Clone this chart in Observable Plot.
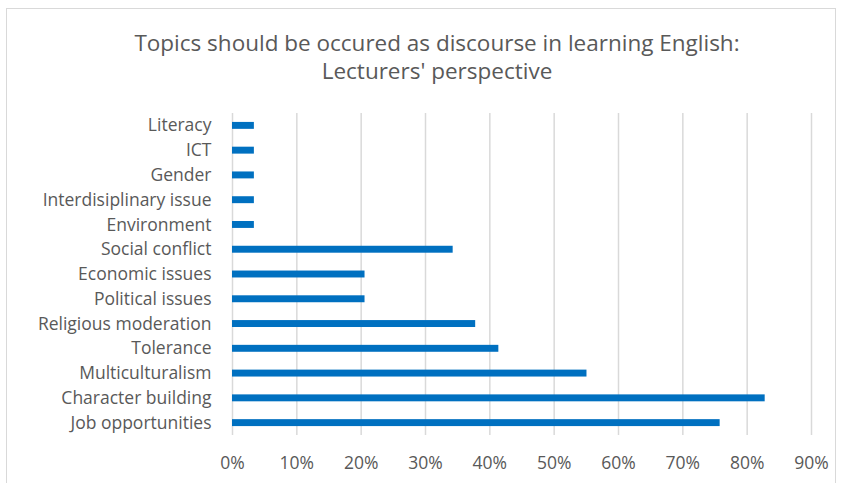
<!DOCTYPE html>
<html>
<head>
<meta charset="utf-8">
<script src="https://cdn.jsdelivr.net/npm/d3@7"></script>
<script src="https://cdn.jsdelivr.net/npm/@observablehq/plot@0.6"></script>
<style>
  html, body { margin: 0; padding: 0; background: #fff; }
  #wrap { position: relative; width: 842px; height: 483px; overflow: hidden; }
  #frame { position: absolute; left: 6px; top: 8px; width: 830px; height: 490px; border: 1.5px solid #d9d9d9; box-sizing: border-box; }
  #title { position: absolute; left: 0; top: 29px; width: 874px; text-align: center; font-family: "Open Sans", sans-serif; font-size: 22.5px; line-height: 28px; color: #595959; letter-spacing: 0px; }
  #chart { position: absolute; left: 0; top: 0; }
</style>
</head>
<body>
<div id="wrap">
  <div id="frame"></div>
  <div id="title">Topics should be occured as discourse in learning English:<br>Lecturers' perspective</div>
  <div id="chart"></div>
</div>
<script>
const categories = [
  "Literacy", "ICT", "Gender", "Interdisiplinary issue", "Environment",
  "Social conflict", "Economic issues", "Political issues", "Religious moderation",
  "Tolerance", "Multiculturalism", "Character building", "Job opportunities"
];
const values = [0.034, 0.034, 0.034, 0.034, 0.034, 0.343, 0.206, 0.206, 0.378, 0.414, 0.551, 0.828, 0.758];
const xTicks = [0, 0.1, 0.2, 0.3, 0.4, 0.5, 0.6, 0.7, 0.8, 0.9];
const xTickLabels = ["0%", "10%", "20%", "30%", "40%", "50%", "60%", "70%", "80%", "90%"];

const data = categories.map((c, i) => ({category: c, value: values[i]}));

const chart = Plot.plot({
  width: 842,
  height: 483,
  marginLeft: 232,
  marginRight: 31,
  marginTop: 113,
  marginBottom: 48,
  style: {fontFamily: "'Open Sans', sans-serif", fontSize: "17.5px", color: "#595959", background: "transparent"},
  x: {domain: [0, 0.9], ticks: xTicks, label: null},
  y: {domain: categories, paddingInner: 0.72, paddingOuter: 0.36, round: false, label: null},
  marks: [
    Plot.gridX(xTicks, {stroke: "#d9d9d9", strokeOpacity: 1, strokeWidth: 1.5}),
    Plot.barX(data, {x: "value", y: "category", fill: "#0070C0"}),
    Plot.axisX({ticks: xTicks, tickFormat: (d) => xTickLabels[xTicks.indexOf(d)], tickSize: 0, tickPadding: 21, label: null, fill: "#595959"}),
    Plot.axisY({tickSize: 0, tickPadding: 21, label: null, fill: "#595959"})
  ]
});
document.getElementById("chart").appendChild(chart);
</script>
</body>
</html>
